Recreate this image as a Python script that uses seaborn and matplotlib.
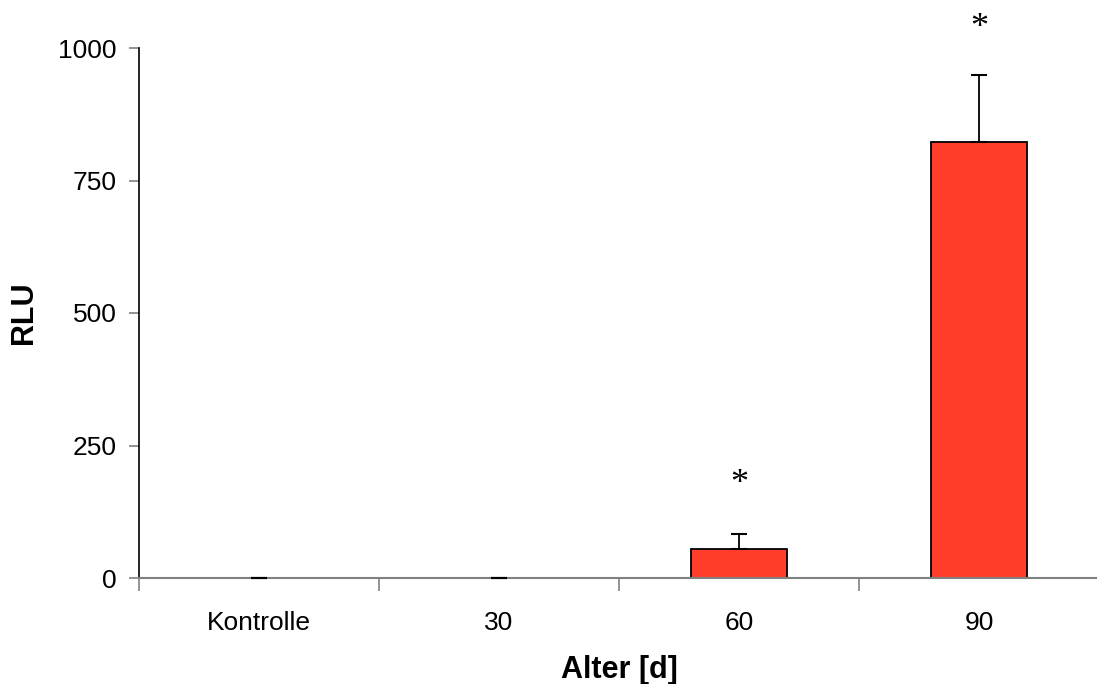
import matplotlib
matplotlib.use("Agg")
import matplotlib.pyplot as plt
import seaborn as sns
import pandas as pd

categories = ["Kontrolle", "30", "60", "90"]
values = [0.0, 0.0, 55, 823]
errors = [0.0, 0.0, 28, 127]
significant = [False, False, True, True]
star_y = [0, 0, 176, 1036]
yticks = [0, 250, 500, 750, 1000]

sns.set_theme(style="white")
plt.rcParams['font.family'] = ['Liberation Sans', 'DejaVu Sans']
plt.rcParams['text.color'] = 'black'
plt.rcParams['axes.labelcolor'] = 'black'
plt.rcParams['xtick.color'] = 'black'
plt.rcParams['ytick.color'] = 'black'

fig = plt.figure(figsize=(10.97, 6.84), dpi=100)
ax = fig.add_axes([139/1097, 106/684, 960/1097, 530/684])

df = pd.DataFrame({"cat": categories, "val": values})
sns.barplot(data=df, x="cat", y="val", ax=ax, color="#FF3D2A", width=0.4,
            edgecolor="black", linewidth=1.3, saturation=1, errorbar=None)
for p, v in zip(ax.patches, values):
    if v == 0:
        p.set_edgecolor("none")

eb = ax.errorbar(range(len(categories)), values,
                 yerr=[[0]*len(errors), errors], fmt="none", ecolor="black",
                 elinewidth=1.3, capsize=6, capthick=1.5, zorder=4)
for c in eb[1]:
    c.set_clip_on(False)
    c.set_zorder(4)

for i, s in enumerate(significant):
    if s:
        ax.text(i, star_y[i], "*", ha="center", va="center", fontsize=26,
                family=["Liberation Serif"], clip_on=False)

ax.set_xlim(-0.5, 3.5)
ax.set_ylim(0, 1000)
ax.set_yticks(yticks)
ax.set_yticklabels([str(t) for t in yticks], fontsize=19)
ax.set_xticks([0, 1, 2, 3])
ax.set_xticklabels(categories, fontsize=19)
ax.tick_params(axis="x", which="major", length=0, pad=24)
ax.tick_params(axis="y", length=7, width=1.2, color="#808080", pad=9, left=True)
ax.set_xticks([-0.5, 0.5, 1.5, 2.5, 3.5], minor=True)
ax.tick_params(axis="x", which="minor", length=9, width=1.2, color="#808080", bottom=True)

for s in ["top", "right"]:
    ax.spines[s].set_visible(False)
ax.spines["left"].set_color("black")
ax.spines["left"].set_linewidth(1.2)
ax.spines["bottom"].set_color("#808080")
ax.spines["bottom"].set_linewidth(1.5)

ax.set_xlabel("Alter [d]", fontsize=22, fontweight="bold", labelpad=14)
ax.set_ylabel("RLU", fontsize=22, fontweight="bold", labelpad=14)

fig.savefig("out.png", dpi=100)
